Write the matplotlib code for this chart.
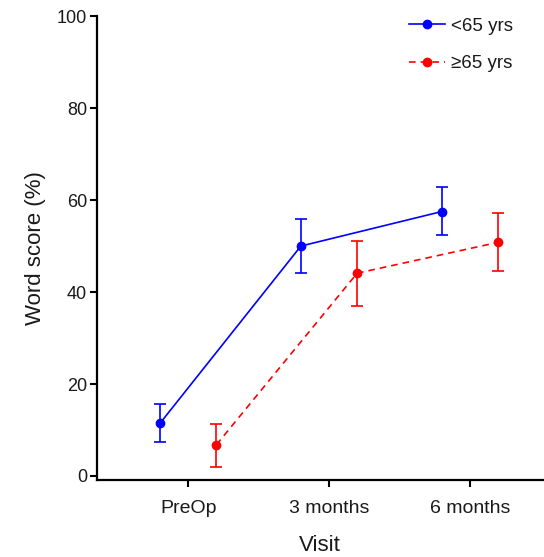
import matplotlib.pyplot as plt
import numpy as np

plt.rcParams['font.family'] = ['Liberation Sans', 'DejaVu Sans']

# Data
visits = ['PreOp', '3 months', '6 months']
young_mean = [11.5, 50.0, 57.5]
young_lo = [7.5, 44.2, 52.3]
young_hi = [15.6, 55.8, 62.8]
old_mean = [6.8, 44.1, 50.8]
old_lo = [2.0, 37.0, 44.6]
old_hi = [11.4, 51.1, 57.1]

x = np.arange(1, len(visits) + 1)
young_err = [np.subtract(young_mean, young_lo), np.subtract(young_hi, young_mean)]
old_err = [np.subtract(old_mean, old_lo), np.subtract(old_hi, old_mean)]

fig = plt.figure(figsize=(5.44, 5.57), dpi=100)
ax = fig.add_axes([0.178, 0.138, 0.82, 0.833])

ax.errorbar(x - 0.2, young_mean, yerr=young_err, color='#0000ff', marker='o',
            markersize=6, linewidth=1.2, capsize=4.5, elinewidth=1.2,
            capthick=1.2, label='<65 yrs')
ax.errorbar(x + 0.2, old_mean, yerr=old_err, color='#ff0000', marker='o',
            markersize=6, linewidth=1.2, linestyle=(0, (4, 3)), capsize=4.5,
            elinewidth=1.2, capthick=1.2, label='≥65 yrs')

ax.set_xlim(0.35, 3.52)
ax.set_ylim(-0.9, 100)
ax.set_xticks(x)
ax.set_xticklabels(visits)
ax.set_yticks([0, 20, 40, 60, 80, 100])
ax.tick_params(length=5, width=1.5, colors='black', labelcolor='#1a1a1a')
ax.tick_params(axis='y', labelsize=13, pad=2)
ax.tick_params(axis='x', labelsize=14, pad=9)

for side in ['top', 'right']:
    ax.spines[side].set_visible(False)
for side in ['left', 'bottom']:
    ax.spines[side].set_linewidth(1.6)

ax.set_xlabel('Visit', fontsize=16, labelpad=13.5, color='#1a1a1a')
ax.set_ylabel('Word score (%)', fontsize=16, labelpad=8, color='#1a1a1a')

handles, labels = ax.get_legend_handles_labels()
handles = [h[0] for h in handles]
ax.legend(handles, labels, loc='upper left', frameon=False, fontsize=13.5,
          labelspacing=1.1, handlelength=1.95, handletextpad=0.3,
          bbox_to_anchor=(0.72, 0.999), bbox_transform=fig.transFigure,
          labelcolor='#1a1a1a')

fig.savefig('out.png', dpi=100)
